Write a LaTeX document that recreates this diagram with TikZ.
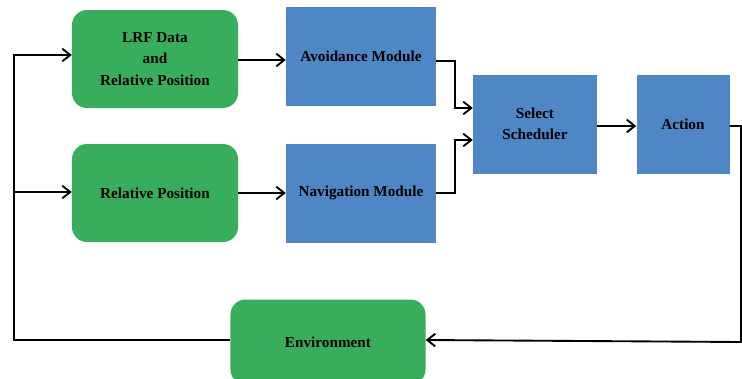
\documentclass[tikz,border=0pt]{standalone}
\usepackage{fontspec}
\setmainfont{Liberation Serif}
\usepackage{tikz}
\usetikzlibrary{arrows.meta}
\definecolor{boxgreen}{RGB}{56,174,92}
\definecolor{boxblue}{RGB}{79,134,198}
\tikzset{
 greenbox/.style={draw=none,fill=boxgreen,rounded corners=0.45cm,align=center,font=\bfseries\fontsize{13}{18}\selectfont},
 bluebox/.style={draw=none,fill=boxblue,align=center,font=\bfseries\fontsize{13}{18}\selectfont},
 link/.style={line width=1.6pt,-{Straight Barb[length=2.4mm,width=3.8mm]}}
}
\begin{document}
\begin{tikzpicture}[x=0.03cm,y=-0.03cm]
 \useasboundingbox (0,0) rectangle (742,378);
 %inputs
 \node[greenbox,minimum width=4.98cm,minimum height=2.94cm] (lrf) at (155,59) {LRF Data\\and\\Relative Position};
 \node[greenbox,minimum width=4.98cm,minimum height=2.94cm] (relpos) at (155,193) {Relative Position};
 %modules
 \node[bluebox,minimum width=4.5cm,minimum height=2.97cm] (avoid) at (361,56) {Avoidance Module};
 \node[bluebox,minimum width=4.5cm,minimum height=2.97cm] (navig) at (361,193) {Navigation Module};
 \node[bluebox,minimum width=3.72cm,minimum height=2.97cm] (select) at (535,124) {Select\\Scheduler};
 \node[bluebox,minimum width=2.79cm,minimum height=2.97cm] (action) at (683,124) {Action};
 %environment
 \node[greenbox,minimum width=5.85cm,minimum height=2.55cm] (env) at (328,342) {Environment};
 %turning points
 \coordinate (avout) at (455,61);
 \coordinate (navout) at (455,193);
 \coordinate (actout) at (741,126);
 \coordinate (back) at (14,340);
 \coordinate (top) at (14,55);
 %links
 \draw[link] (lrf.east |- 0,60) -- (avoid.west |- 0,60);
 \draw[link] (relpos.east |- 0,193) -- (navig.west |- 0,193);
 \draw[link] (avoid.east |- avout) -- (avout) -- (455,108) -- (select.west |- 0,108);
 \draw[link] (navout -| navig.east) -- (navout) -- (455,140) -- (select.west |- 0,140);
 \draw[link] (select.east |- 0,126) -- (action.west |- 0,126);
 \draw[link] (action.east |- actout) -- (actout) -- (actout |- env.east) -- (env.east |- back);
 \draw[link] (env.west |- back) -- (back) -- (top) -- (lrf.west |- top);
 \draw[link] (14,192) -- (relpos.west |- 0,192);
\end{tikzpicture}
\end{document}
